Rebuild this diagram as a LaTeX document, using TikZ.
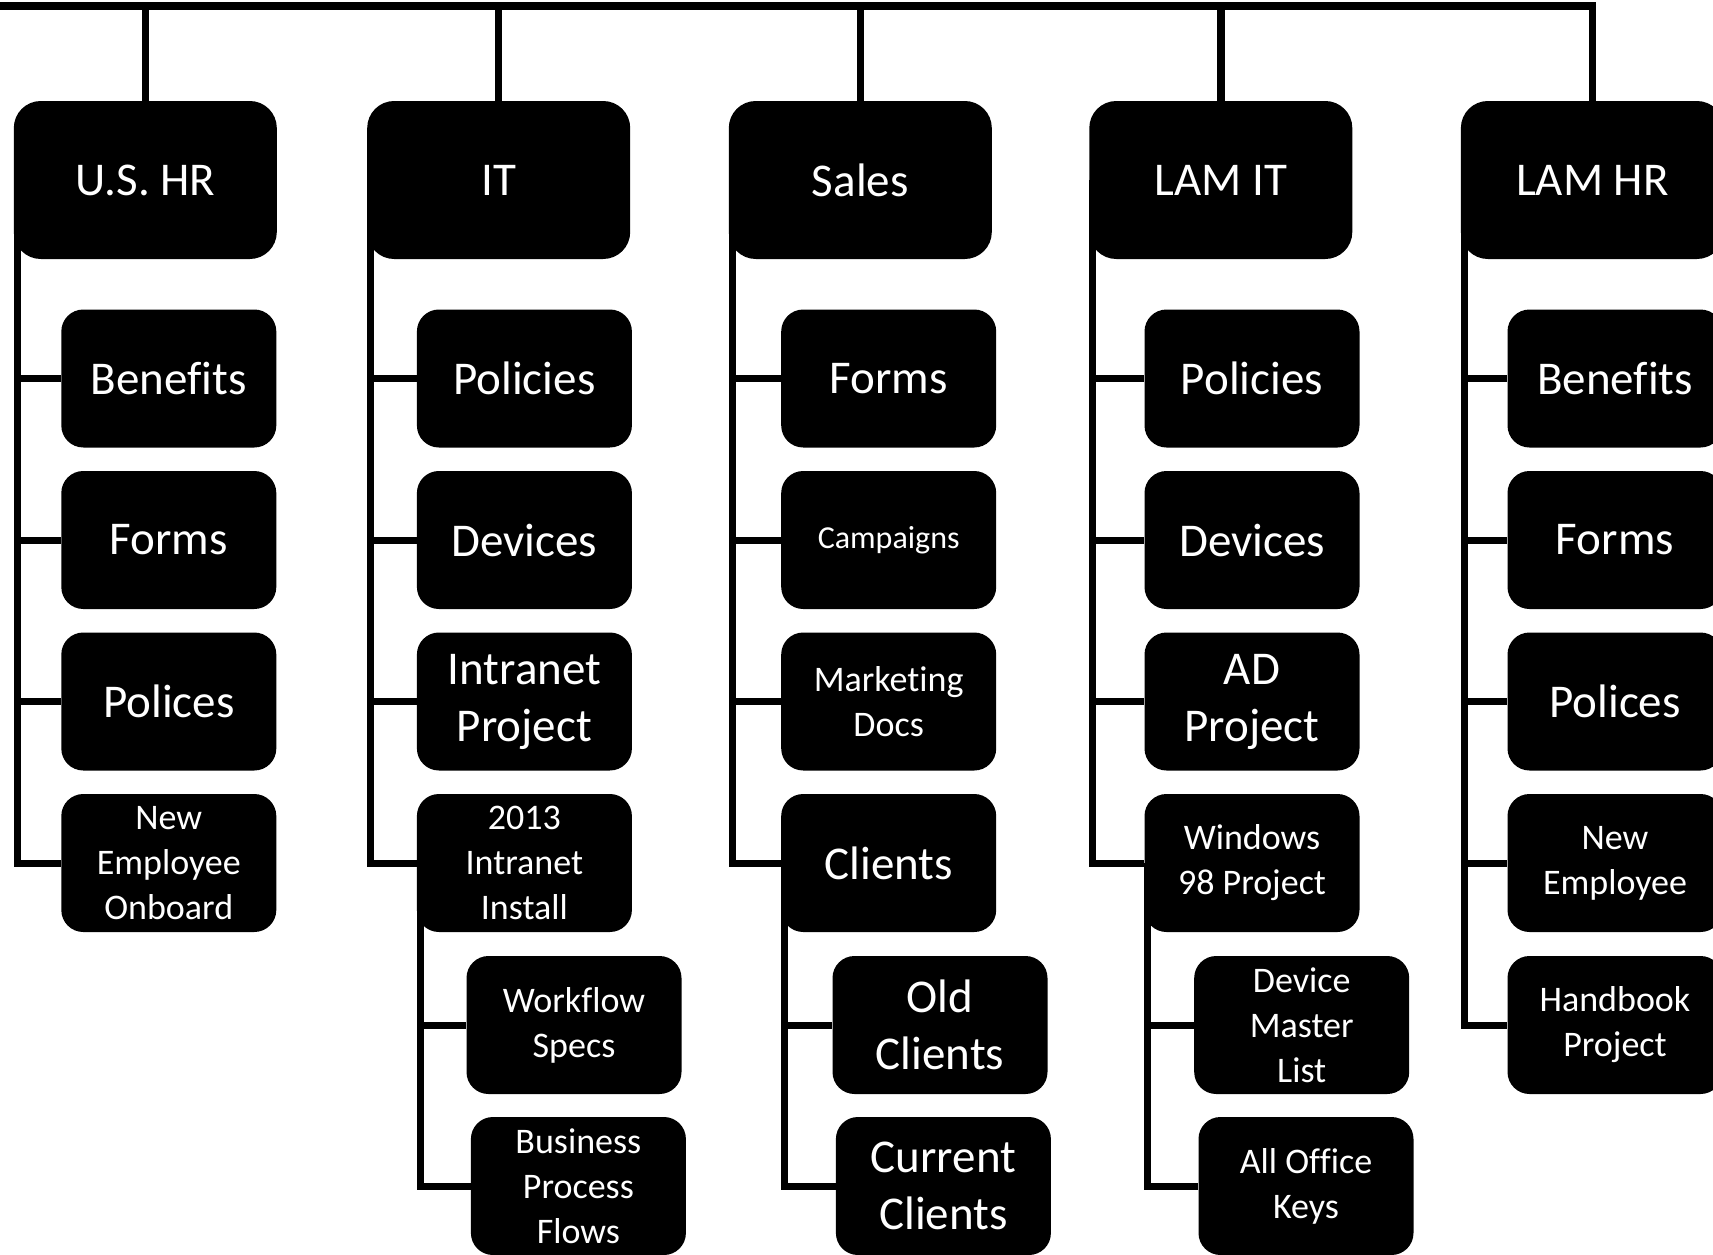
\documentclass[tikz,border=0pt]{standalone}
\usepackage{fontspec}
\setmainfont[Ligatures={NoCommon,NoContextual}]{Carlito}
\usetikzlibrary{calc}
\begin{document}
\begin{tikzpicture}[x=1pt,y=-1pt,
  conn/.style={line width=7pt,black},
  topbox/.style={fill=black,text=white,rounded corners=27pt,minimum width=263pt,minimum height=158pt,inner sep=0pt,align=center,font=\fontsize{47}{57}\selectfont},
  kidbox/.style={fill=black,text=white,rounded corners=22pt,minimum width=215pt,minimum height=138pt,inner sep=0pt,align=center,font=\fontsize{47}{57}\selectfont},
  smalltxt/.style={font=\fontsize{36}{45}\selectfont},
  tinytxt/.style={font=\fontsize{32}{40}\selectfont}]
\useasboundingbox (0,0) rectangle (1713,1255);
\clip (0,0) rectangle (1713,1255);

% top level
\node[topbox] (ushr)  at (145.3,180) {U.S. HR};
\node[topbox] (it)    at (498.7,180) {IT};
\node[topbox] (sales) at (860.3,180) {Sales};
\node[topbox] (lamit) at (1220.8,180) {LAM IT};
\node[topbox] (lamhr) at (1592.4,180) {LAM HR};

% U.S. HR
\node[kidbox] (ushrA) at (168.8,378.5) {Benefits};
\node[kidbox] (ushrB) at (168.8,540) {Forms};
\node[kidbox] (ushrC) at (168.8,701.5) {Polices};
\node[kidbox,smalltxt] (ushrD) at (168.8,863) {New\\Employee\\Onboard};

% IT
\node[kidbox] (itA) at (524.4,378.5) {Policies};
\node[kidbox] (itB) at (524.4,540) {Devices};
\node[kidbox] (itC) at (524.4,701.5) {Intranet\\Project};
\node[kidbox,smalltxt] (itD) at (524.4,863) {2013\\Intranet\\Install};
\node[kidbox,smalltxt] (itE) at (574,1025) {Workflow\\Specs};
\node[kidbox,smalltxt] (itF) at (578.4,1186) {Business\\Process\\Flows};

% Sales
\node[kidbox] (saA) at (888.7,378.5) {Forms};
\node[kidbox,tinytxt] (saB) at (888.7,540) {Campaigns};
\node[kidbox,smalltxt] (saC) at (888.7,701.5) {Marketing\\Docs};
\node[kidbox] (saD) at (888.7,863) {Clients};
\node[kidbox] (saE) at (940,1025) {Old\\Clients};
\node[kidbox] (saF) at (943.4,1186) {Current\\Clients};

% LAM IT
\node[kidbox] (liA) at (1252,378.5) {Policies};
\node[kidbox] (liB) at (1252,540) {Devices};
\node[kidbox] (liC) at (1252,701.5) {AD\\Project};
\node[kidbox,smalltxt] (liD) at (1252,863) {Windows\\98 Project};
\node[kidbox,smalltxt] (liE) at (1301.7,1025) {Device\\Master\\List};
\node[kidbox,smalltxt] (liF) at (1306,1186) {All Office\\Keys};

% LAM HR
\node[kidbox] (lhA) at (1615,378.5) {Benefits};
\node[kidbox] (lhB) at (1615,540) {Forms};
\node[kidbox] (lhC) at (1615,701.5) {Polices};
\node[kidbox,smalltxt] (lhD) at (1615,863) {New\\Employee};
\node[kidbox,smalltxt] (lhE) at (1615,1025) {Handbook\\Project};

% top bar and drops
\coordinate (barL) at (-10,6);
\draw[conn,line width=7.5pt] (barL) -| (lamhr.north);
\foreach \n in {ushr,it,sales,lamit} \draw[conn,line width=7.5pt] (\n.north |- barL) -- (\n.north);

% branch connectors
\coordinate (ushrL) at ($(ushr.west)+(3.5,0)$);
\draw[conn] (ushrL) |- (ushrD.west);
\foreach \k in {ushrA,ushrB,ushrC} \draw[conn] (ushrL |- \k.west) -- (\k.west);

\coordinate (itL) at ($(it.west)+(3.5,0)$);
\draw[conn] (itL) |- (itD.west);
\foreach \k in {itA,itB,itC} \draw[conn] (itL |- \k.west) -- (\k.west);
\coordinate (itDL) at ($(itD.west)+(3.5,0)$);
\draw[conn] (itDL) |- (itF.west);
\draw[conn] (itDL |- itE.west) -- (itE.west);

\coordinate (saL) at ($(sales.west)+(3.5,0)$);
\draw[conn] (saL) |- (saD.west);
\foreach \k in {saA,saB,saC} \draw[conn] (saL |- \k.west) -- (\k.west);
\coordinate (saDL) at ($(saD.west)+(3.5,0)$);
\draw[conn] (saDL) |- (saF.west);
\draw[conn] (saDL |- saE.west) -- (saE.west);

\coordinate (liL) at ($(lamit.west)+(3.5,0)$);
\draw[conn] (liL) |- (liD.west);
\foreach \k in {liA,liB,liC} \draw[conn] (liL |- \k.west) -- (\k.west);
\coordinate (liDL) at ($(liD.west)+(3.5,0)$);
\draw[conn] (liDL) |- (liF.west);
\draw[conn] (liDL |- liE.west) -- (liE.west);

\coordinate (lhL) at ($(lamhr.west)+(3.5,0)$);
\draw[conn] (lhL) |- (lhE.west);
\foreach \k in {lhA,lhB,lhC,lhD} \draw[conn] (lhL |- \k.west) -- (\k.west);
\end{tikzpicture}
\end{document}
